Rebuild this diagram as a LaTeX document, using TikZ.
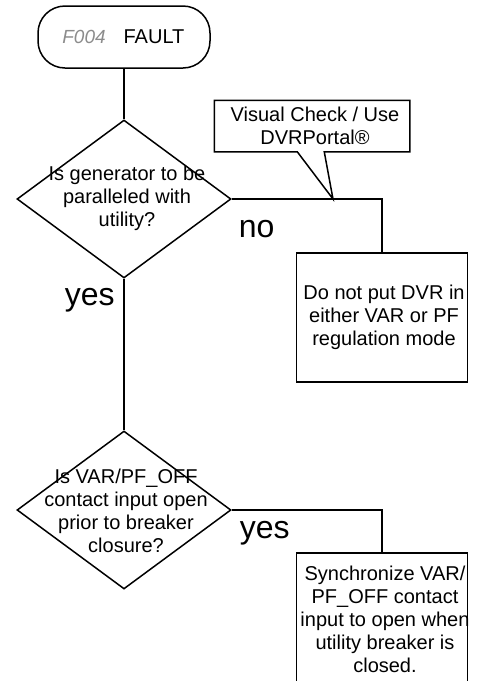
\documentclass[tikz,border=0pt]{standalone}
\usepackage{fontspec}
\setmainfont{Liberation Sans}
\usetikzlibrary{shapes.geometric,calc}
\definecolor{codegray}{RGB}{140,140,140}
\begin{document}
\begin{tikzpicture}[x=1pt,y=-1pt,line width=1.5pt,
  txt/.style={font=\fontsize{20}{23}\selectfont, align=center, inner sep=0pt},
  lbl/.style={font=\fontsize{32}{36}\selectfont, inner sep=0pt, anchor=base west},
  term/.style={draw, rounded corners=27pt, minimum width=172pt, minimum height=62pt, inner sep=0pt},
  dec/.style={draw, diamond, minimum width=214pt, minimum height=158pt, inner sep=0pt},
  proc/.style={draw, rectangle, minimum width=171pt, inner sep=0pt},
  note/.style={rectangle, minimum width=194pt, minimum height=50pt, inner sep=0pt}]
\clip (0,0) rectangle (478,681);
\useasboundingbox (0,0) rectangle (478,681);

% terminator
\node[term] (t) at (124,37) {};
\node[txt, text=codegray, font=\fontsize{19}{22}\selectfont\itshape] (code) at (84,37) {F004};
\node[txt] (fault) at (154,37) {FAULT};

% decisions
\node[dec] (d1) at (124,199) {};
\node[txt] (d1t) at (127,198) {Is generator to be\\paralleled with\\utility?};
\node[dec] (d2) at (124,510) {};
\node[txt] (d2t) at (126,511) {Is VAR/PF\_OFF\\contact input open\\prior to breaker\\closure?};

% process boxes
\node[proc, minimum height=129pt] (b2) at (382,317.5) {};
\node[txt] (b2t) at (384,317) {Do not put DVR in\\either VAR or PF\\regulation mode};
\node[proc, minimum height=134pt] (b3) at (382,620) {};
\node[txt] (b3t) at (385,619) {Synchronize VAR/\\PF\_OFF contact\\input to open when\\utility breaker is\\closed.};

% callout
\node[note] (cb) at (312,126) {};
\node[txt] (cbt) at (315,126) {Visual Check / Use\\DVRPortal\textregistered};
\coordinate (tip) at (333,199);
\draw[line join=miter] ($(cb.south west)+(110,0)$) -- (cb.south east) -- (cb.north east)
  -- (cb.north west) -- (cb.south west) -- ($(cb.south west)+(83,0)$) -- (tip) -- cycle;

% connectors
\draw (t.south) -- (d1.north);
\draw (d1.east) -| (b2.north);
\draw (d1.south) -- (d2.north);
\draw (d2.east) -| (b3.north);

% labels
\node[lbl] (no1) at (238,237) {no};
\node[lbl] (yes1) at (64,305) {yes};
\node[lbl] (yes2) at (239,538) {yes};
\end{tikzpicture}
\end{document}
